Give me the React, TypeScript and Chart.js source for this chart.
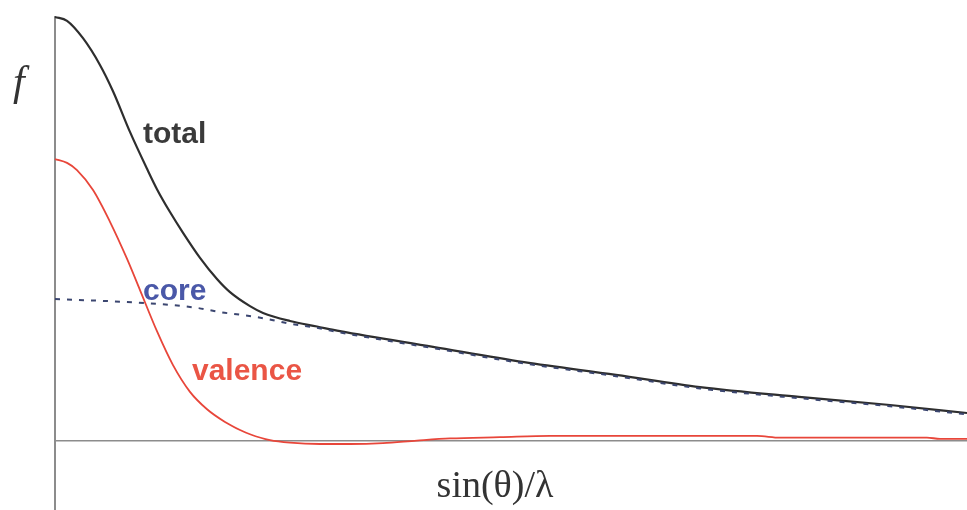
import React, { useEffect, useRef } from "react";
import { Chart, registerables } from "chart.js";

Chart.register(...registerables);

// x in arbitrary units of sin(θ)/λ (0..100), y = scattering factor f (arbitrary units)
const totalX = [0, 1.32, 3.07, 4.93, 6.36, 8.22, 10.09, 11.18, 12.61, 14.04, 15.9, 17.76, 19.19, 21.38, 22.81, 25.77, 28.73, 31.25, 41.45, 51.43, 61.51, 70.72, 81.58, 91.56, 100];
const totalY = [100, 99.1, 95.0, 88.7, 82.5, 72.9, 64.2, 59.4, 54.0, 49.1, 43.2, 38.2, 35.1, 31.8, 30.2, 28.3, 27.0, 25.9, 22.2, 18.6, 15.6, 12.7, 10.4, 8.5, 6.6];

const coreX = [0, 10.09, 15.57, 18.09, 20.61, 23.25, 25.44, 28.73, 31.25, 41.45, 51.43, 61.51, 70.72, 81.58, 91.56, 100];
const coreY = [33.5, 32.5, 31.4, 30.4, 29.7, 28.8, 27.8, 26.7, 25.6, 21.9, 18.3, 15.3, 12.4, 10.1, 8.2, 6.3];

const valenceX = [0, 1.32, 2.41, 4.17, 6.03, 7.89, 9.32, 11.18, 12.94, 14.8, 16.67, 18.64, 20.29, 21.38, 23.57, 25.77, 29.06, 32.35, 35.96, 39.69, 43.31, 48.79, 54.28, 65.24, 76.97, 79.5, 95.61, 97.04, 100];
const valenceY = [66.5, 65.6, 63.9, 59.2, 51.7, 43.0, 35.6, 25.9, 17.9, 11.6, 7.5, 4.5, 2.6, 1.6, 0.2, -0.4, -0.7, -0.7, -0.5, 0.1, 0.6, 0.9, 1.2, 1.2, 1.2, 0.8, 0.8, 0.5, 0.5];

const seriesNames = ["total", "core", "valence"];
const axisTitleX = "sin(θ)/λ";
const axisTitleY = "f";

const toPoints = (xs: number[], ys: number[]) => xs.map((x, i) => ({ x, y: ys[i] }));

const labelsPlugin = {
  id: "curveLabels",
  afterDraw(chart: any) {
    const { ctx, scales } = chart;
    const xs = scales.x;
    const ys = scales.y;
    const sans = '"Liberation Sans", Arial, sans-serif';
    const serif = '"Liberation Serif", "Times New Roman", serif';
    const items = [
      { text: seriesNames[0], x: 9.65, y: 70.3, font: `bold 30px ${sans}`, color: "#3a3a3a", align: "left" },
      { text: seriesNames[1], x: 9.65, y: 33.3, font: `bold 30px ${sans}`, color: "#4a58a8", align: "left" },
      { text: seriesNames[2], x: 15.02, y: 14.4, font: `bold 30px ${sans}`, color: "#ea5545", align: "left" },
      { text: axisTitleY, x: -4.6, y: 81.6, font: `italic 42px ${serif}`, color: "#333333", align: "left" },
      { text: axisTitleX, x: 48.25, y: -13.2, font: `38px ${serif}`, color: "#333333", align: "center" },
    ];
    ctx.save();
    ctx.textBaseline = "alphabetic";
    for (const it of items) {
      ctx.font = it.font;
      ctx.fillStyle = it.color;
      ctx.textAlign = it.align;
      ctx.fillText(it.text, xs.getPixelForValue(it.x), ys.getPixelForValue(it.y));
    }
    ctx.restore();
  },
};

export default function App() {
  const canvasRef = useRef<HTMLCanvasElement | null>(null);

  useEffect(() => {
    if (!canvasRef.current) return;
    const chart = new Chart(canvasRef.current, {
      type: "line",
      data: {
        datasets: [
          {
            label: seriesNames[1],
            data: toPoints(coreX, coreY),
            borderColor: "#3b4670",
            borderWidth: 2,
            borderDash: [5, 7],
            pointRadius: 0,
            cubicInterpolationMode: "monotone",
            clip: 6,
            order: 0,
          },
          {
            label: seriesNames[0],
            data: toPoints(totalX, totalY),
            borderColor: "#2e2e2e",
            borderWidth: 2.2,
            pointRadius: 0,
            cubicInterpolationMode: "monotone",
            clip: 6,
            order: 1,
          },
          {
            label: seriesNames[2],
            data: toPoints(valenceX, valenceY),
            borderColor: "#e8463a",
            borderWidth: 1.8,
            pointRadius: 0,
            cubicInterpolationMode: "monotone",
            clip: 6,
            order: 2,
          },
        ],
      },
      options: {
        animation: false,
        responsive: true,
        maintainAspectRatio: false,
        layout: { padding: { left: 55, right: 0, top: 17, bottom: 0 } },
        plugins: { legend: { display: false }, tooltip: { enabled: false } },
        scales: {
          x: { type: "linear", min: 0, max: 100, display: false },
          y: {
            type: "linear",
            min: -16.27,
            max: 100,
            afterBuildTicks: (scale: any) => {
              scale.ticks = [{ value: 0 }];
            },
            afterFit: (scale: any) => {
              scale.width = 0;
            },
            ticks: { display: false },
            grid: { color: "#8c8c8c", lineWidth: 1.5, drawTicks: false },
            border: { display: true, color: "#8c8c8c", width: 2 },
          },
        },
      },
      plugins: [labelsPlugin],
    });
    return () => chart.destroy();
  }, []);

  return (
    <div style={{ position: "fixed", left: 0, top: 0, width: 967, height: 510, background: "#ffffff" }}>
      <canvas ref={canvasRef} />
    </div>
  );
}
